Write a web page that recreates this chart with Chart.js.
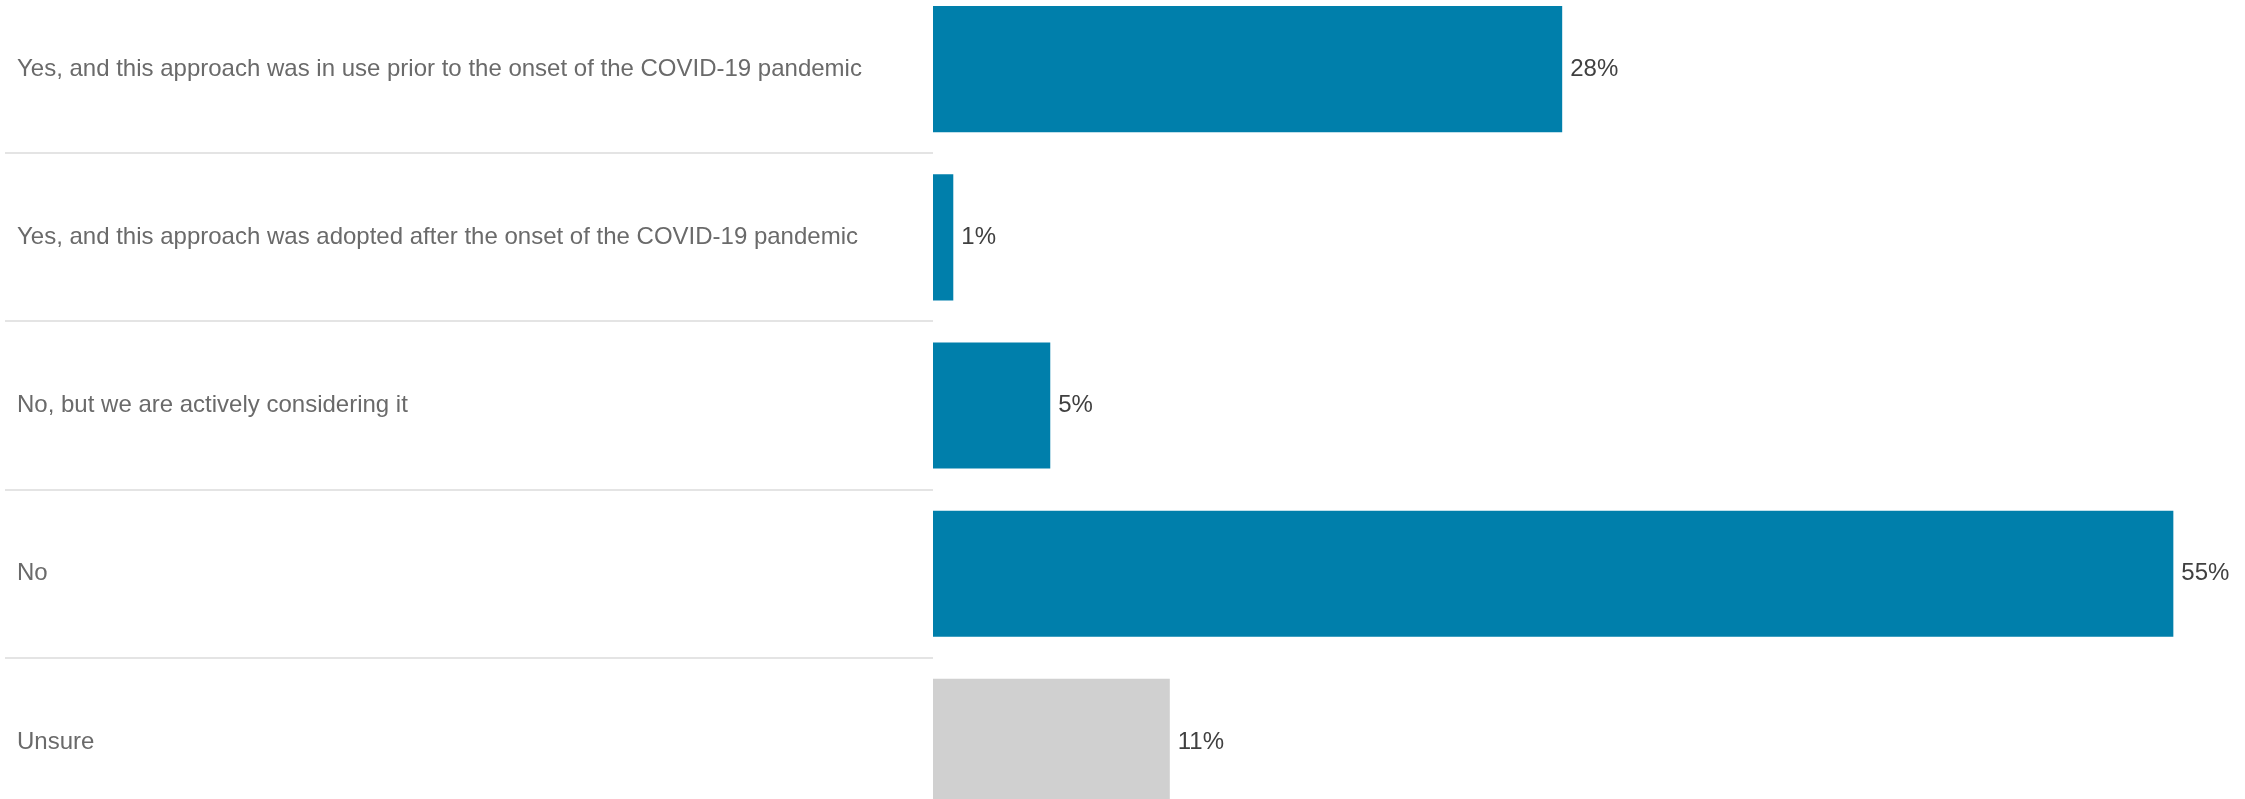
<!DOCTYPE html>
<html>
<head>
<meta charset="utf-8">
<script src="https://cdn.jsdelivr.net/npm/chart.js@4/dist/chart.umd.min.js"></script>
<style>
  html, body { margin: 0; padding: 0; background: #fff; overflow: hidden; }
  #wrap { position: absolute; left: 0; top: -15px; width: 2245px; height: 841px; }
</style>
</head>
<body>
<div id="wrap"><canvas id="chart"></canvas></div>
<script>
const categories = [
  "Yes, and this approach was in use prior to the onset of the COVID-19 pandemic",
  "Yes, and this approach was adopted after the onset of the COVID-19 pandemic",
  "No, but we are actively considering it",
  "No",
  "Unsure"
];
const values = [27.9, 0.9, 5.2, 55, 10.5];

const BLUE = "#007FAB";
const GREY = "#D0D0D0";
const FONT = "'Liberation Sans', Arial, sans-serif";

// value labels at the end of each bar
const valueLabels = {
  id: "valueLabels",
  afterDatasetsDraw(chart) {
    const ctx = chart.ctx;
    const meta = chart.getDatasetMeta(0);
    ctx.save();
    ctx.font = "24px " + FONT;
    ctx.fillStyle = "#404040";
    ctx.textAlign = "left";
    ctx.textBaseline = "middle";
    meta.data.forEach((bar, i) => {
      ctx.fillText(Math.round(values[i]) + "%", bar.x + 8, bar.y);
    });
    ctx.restore();
  }
};

new Chart(document.getElementById("chart"), {
  type: "bar",
  data: {
    labels: categories,
    datasets: [{
      data: values,
      backgroundColor: values.map((v, i) => i === values.length - 1 ? GREY : BLUE),
      borderWidth: 0,
      categoryPercentage: 1,
      barPercentage: 0.75
    }]
  },
  options: {
    indexAxis: "y",
    responsive: true,
    maintainAspectRatio: false,
    animation: false,
    layout: { padding: { left: 17, right: 4, top: 0, bottom: 0 } },
    plugins: {
      legend: { display: false },
      tooltip: { enabled: false }
    },
    scales: {
      x: {
        display: false,
        min: 0,
        max: 58
      },
      y: {
        afterFit(scale) {
          scale.width = 916;
          scale.paddingTop = 0;
          scale.paddingBottom = 0;
        },
        border: { display: false },
        grid: {
          offset: true,
          drawOnChartArea: false,
          drawTicks: true,
          tickLength: 928,
          color: "#e4e4e4",
          lineWidth: 2
        },
        ticks: {
          crossAlign: "far",
          color: "#6a6a6a",
          font: { family: FONT, size: 24 }
        }
      }
    }
  },
  plugins: [valueLabels]
});
</script>
</body>
</html>
